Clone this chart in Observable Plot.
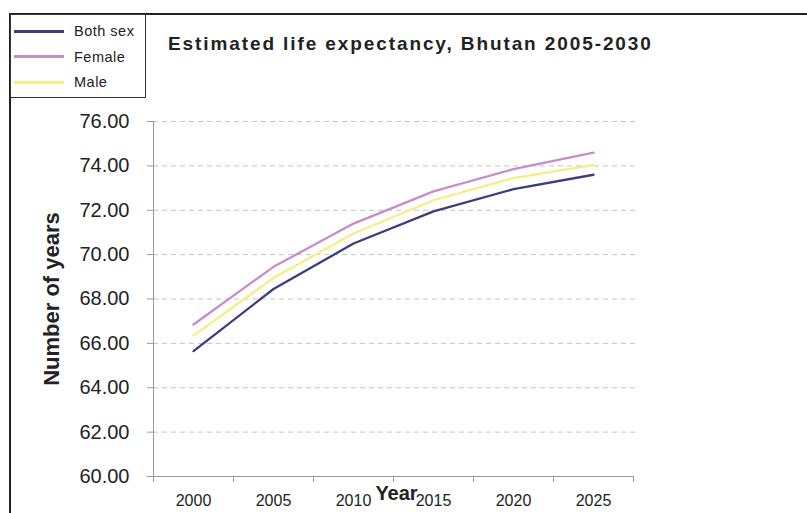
<!DOCTYPE html>
<html>
<head>
<meta charset="utf-8">
<script src="https://cdn.jsdelivr.net/npm/d3@7"></script>
<script src="https://cdn.jsdelivr.net/npm/@observablehq/plot@0.6"></script>
<style>
  html, body { margin: 0; padding: 0; background: #fff; }
  #wrap { position: relative; width: 807px; height: 513px; overflow: hidden; font-family: "Liberation Sans", Arial, sans-serif; }
  #frame { position: absolute; left: 9px; top: 13px; right: -10px; bottom: -10px; border-left: 2px solid #222; border-top: 2px solid #222; pointer-events: none; }
  #title { position: absolute; left: 168px; top: 33px; font-size: 19px; font-weight: bold; color: #222; letter-spacing: 1.9px; white-space: nowrap; }
  #legend { position: absolute; left: 10px; top: 14px; width: 134px; height: 82px; border: 1px solid #333; background: #fff; }
  .item { position: absolute; left: 3px; height: 16px; display: flex; align-items: center; font-size: 14.5px; color: #222; letter-spacing: 0.5px; }
  .sw { width: 50px; height: 3px; margin-right: 10px; }
</style>
</head>
<body>
<div id="wrap">
  <div id="chart"></div>
  <div id="frame"></div>
  <div id="legend"></div>
  <div id="title">Estimated life expectancy, Bhutan 2005-2030</div>
</div>
<script>
const years = [2000, 2005, 2010, 2015, 2020, 2025];
const seriesNames = ["Both sex", "Female", "Male"];
const bothSex = [65.65, 68.45, 70.5, 71.95, 72.95, 73.6];
const female = [66.85, 69.45, 71.4, 72.85, 73.85, 74.6];
const male = [66.35, 68.95, 70.95, 72.45, 73.45, 74.05];
const colors = ["#3d3d7e", "#c88ccb", "#f4ef84"];
const yTicks = [60, 62, 64, 66, 68, 70, 72, 74, 76];

const seriesValues = [bothSex, female, male];
const data = [];
seriesNames.forEach((s, i) => years.forEach((y, j) => data.push({series: s, year: y, value: seriesValues[i][j]})));

// category boundaries (Excel-style ticks between categories)
const step = years[1] - years[0];
const bounds = [...years.map(y => y - step / 2), years[years.length - 1] + step / 2];

const font = '"Liberation Sans", Arial, sans-serif';
const chart = Plot.plot({
  width: 807,
  height: 513,
  marginLeft: 153,
  marginRight: 174,
  marginTop: 121,
  marginBottom: 37,
  style: {fontFamily: font, background: "transparent", color: "#222"},
  x: {type: "linear", domain: [bounds[0], bounds[bounds.length - 1]]},
  y: {type: "linear", domain: [60, 76]},
  color: {domain: seriesNames, range: colors},
  marks: [
    Plot.ruleY(yTicks.slice(1), {stroke: "#c4c4c4", strokeDasharray: "5,4", strokeWidth: 1, insetRight: -3}),
    Plot.ruleY([60], {stroke: "#999", strokeWidth: 1}),
    Plot.ruleX([bounds[0]], {stroke: "#999", strokeWidth: 1}),
    Plot.axisX({ticks: bounds, tickFormat: () => "", tickSize: 6, stroke: "#999", label: null}),
    Plot.axisY({ticks: yTicks, tickFormat: d => d.toFixed(2), tickSize: 6, tickPadding: 18, fontSize: 20, stroke: "#999", label: null}),
    Plot.axisX({ticks: years, tickFormat: d => String(d), tickSize: 0, tickPadding: 18, fontSize: 16, label: null}),
    Plot.lineY(data, {x: "year", y: "value", stroke: "series", strokeWidth: 2.3}),
    Plot.text(["Number of years"], {frameAnchor: "left", textAnchor: "middle", dx: -102, rotate: -90, fontSize: 22, fontWeight: "bold", fill: "#222"}),
    Plot.text(["Year"], {x: 2010, y: 60, dx: 43, dy: 17, fontSize: 20, fontWeight: "bold", fill: "#222"})
  ]
});
document.getElementById("chart").appendChild(chart);

const legend = document.getElementById("legend");
seriesNames.forEach((s, i) => {
  const d = document.createElement("div");
  d.className = "item";
  d.style.top = (8 + i * 25.5) + "px";
  d.innerHTML = `<span class="sw" style="background:${colors[i]}"></span>${s}`;
  legend.appendChild(d);
});
</script>
</body>
</html>
